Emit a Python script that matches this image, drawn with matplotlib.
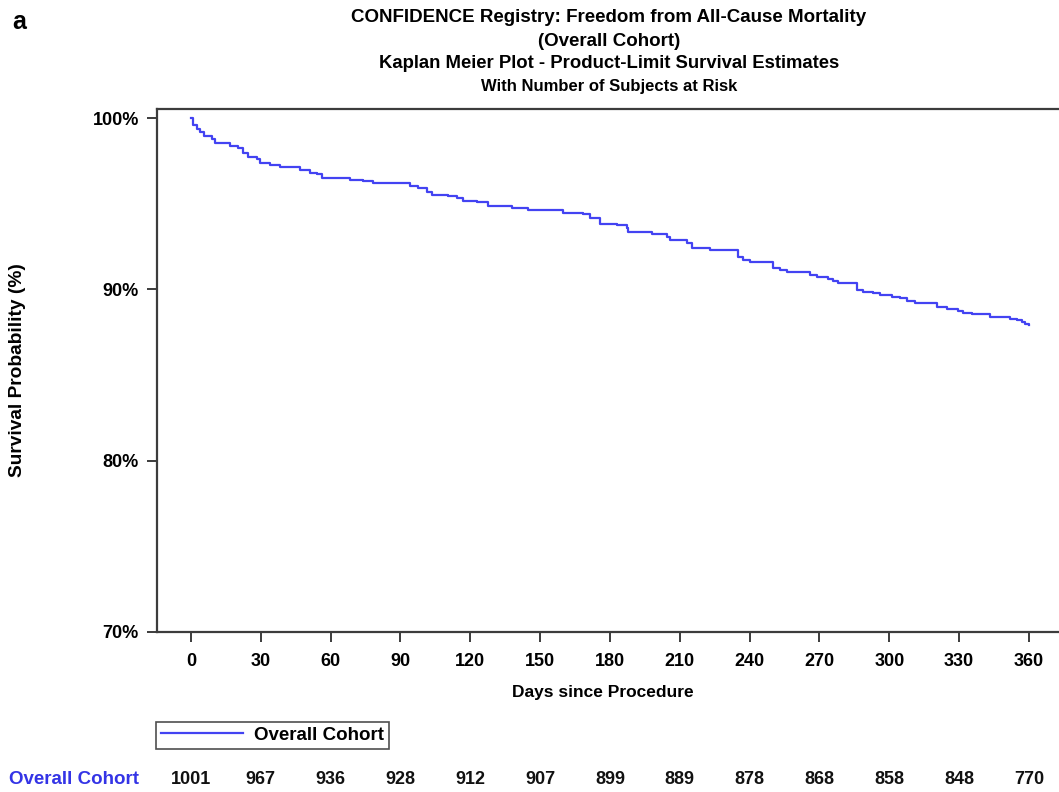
import matplotlib
matplotlib.use("Agg")
import matplotlib.pyplot as plt
from matplotlib.transforms import blended_transform_factory

plt.rcParams['font.family'] = ['Liberation Sans', 'DejaVu Sans']

# Kaplan-Meier step data (days, survival %)
km_days = [0, 0.8, 2.4, 3.9, 5.6, 8.9, 10.3, 16.8, 20.3, 22.5, 24.6, 28.2, 29.6,
           33.9, 38.2, 46.8, 51.1, 54.0, 56.2, 68.3, 74.0, 78.3, 94.1, 97.6,
           101.2, 103.4, 110.5, 114.1, 117.0, 122.7, 127.7, 137.7, 144.9, 159.9,
           168.5, 171.4, 175.7, 183.0, 187.2, 187.9, 197.9, 204.4, 205.8, 212.9,
           215.1, 222.9, 235.1, 237.2, 240.1, 250.1, 253.0, 255.9, 265.9, 268.8,
           273.8, 275.9, 278.0, 286.0, 288.8, 293.1, 296.0, 301.0, 304.6, 307.4,
           311.0, 320.3, 324.6, 329.6, 331.8, 335.4, 343.2, 351.8, 354.7, 356.8,
           358.5, 360.0]
km_surv = [100.0, 99.6, 99.4, 99.2, 98.97, 98.77, 98.54, 98.38, 98.25, 97.99,
           97.76, 97.6, 97.41, 97.27, 97.17, 96.98, 96.82, 96.75, 96.5, 96.4,
           96.32, 96.2, 96.05, 95.9, 95.7, 95.52, 95.46, 95.33, 95.17, 95.09,
           94.88, 94.78, 94.64, 94.45, 94.39, 94.19, 93.83, 93.74, 93.6, 93.38,
           93.22, 93.08, 92.89, 92.73, 92.4, 92.31, 91.92, 91.72, 91.59, 91.24,
           91.14, 91.04, 90.85, 90.71, 90.62, 90.5, 90.4, 89.97, 89.87, 89.78,
           89.68, 89.58, 89.49, 89.35, 89.23, 89.0, 88.84, 88.76, 88.64, 88.57,
           88.41, 88.26, 88.2, 88.1, 88.0, 87.9]

x_ticks = [0, 30, 60, 90, 120, 150, 180, 210, 240, 270, 300, 330, 360]
y_ticks = [70, 80, 90, 100]
y_tick_labels = ['70%', '80%', '90%', '100%']
at_risk = [1001, 967, 936, 928, 912, 907, 899, 889, 878, 868, 858, 848, 770]

series_name = 'Overall Cohort'
blue = '#4343f2'
text_blue = '#3434e6'
spine_col = '#3c3c3c'

W, H = 1059, 792
fig = plt.figure(figsize=(W / 100, H / 100), dpi=100)
ax = fig.add_axes([157 / W, 1 - 632 / H, (W - 157) / W, (632 - 109) / H])

ax.step(km_days, km_surv, where='post', color=blue, lw=1.6, label=series_name)

ax.set_xlim(-14.6, 372.9)
ax.set_ylim(70, 100.54)
ax.set_xticks(x_ticks)
ax.set_yticks(y_ticks)
ax.set_yticklabels(y_tick_labels)

for s in ['left', 'top', 'bottom']:
    ax.spines[s].set_color(spine_col)
    ax.spines[s].set_linewidth(1.6)
ax.spines['right'].set_visible(False)
ax.tick_params(axis='both', direction='out', length=7, width=1.4, color=spine_col,
               labelsize=13, pad=6)
for lab in ax.get_xticklabels() + ax.get_yticklabels():
    lab.set_fontweight('bold')
ax.tick_params(axis='x', pad=8)

ax.set_xlabel('Days since Procedure', fontsize=12.5, fontweight='bold')
ax.xaxis.set_label_coords((603 - 157) / (W - 157), (632 - 692) / (632 - 109))
ax.xaxis.label.set_va('center')
ax.set_ylabel('Survival Probability (%)', fontsize=13.8, fontweight='bold')
ax.yaxis.set_label_coords((18 - 157) / (W - 157), 0.5)
ax.yaxis.label.set_va('center')

# Titles
fig.text(609 / W, 1 - 17 / H, 'CONFIDENCE Registry: Freedom from All-Cause Mortality',
         ha='center', va='center', fontsize=13.5, fontweight='bold')
fig.text(609 / W, 1 - 41 / H, '(Overall Cohort)',
         ha='center', va='center', fontsize=13.5, fontweight='bold')
fig.text(609 / W, 1 - 64 / H, 'Kaplan Meier Plot - Product-Limit Survival Estimates',
         ha='center', va='center', fontsize=13.3, fontweight='bold')
fig.text(609 / W, 1 - 87 / H, 'With Number of Subjects at Risk',
         ha='center', va='center', fontsize=12, fontweight='bold')
fig.text(12 / W, 1 - 22 / H, 'a', ha='left', va='center', fontsize=18, fontweight='bold')

# Legend
leg = ax.legend(loc='upper left', bbox_to_anchor=(156 / W, 1 - 722 / H),
                bbox_transform=fig.transFigure, borderaxespad=0, fancybox=False,
                frameon=True, edgecolor='#222222', handlelength=4.4,
                prop={'weight': 'bold', 'size': 13.5}, borderpad=0.25,
                handletextpad=0.6)
leg.get_frame().set_linewidth(1.2)

# At-risk table
trans = blended_transform_factory(ax.transData, fig.transFigure)
for d, n in zip(x_ticks, at_risk):
    ax.text(d, 1 - 779 / H, str(n), transform=trans, ha='center', va='center',
            fontsize=13, fontweight='bold', color='#111111')
fig.text(9 / W, 1 - 779 / H, series_name, ha='left', va='center',
         fontsize=13.5, fontweight='bold', color=text_blue)

fig.savefig('out.png', dpi=100)
